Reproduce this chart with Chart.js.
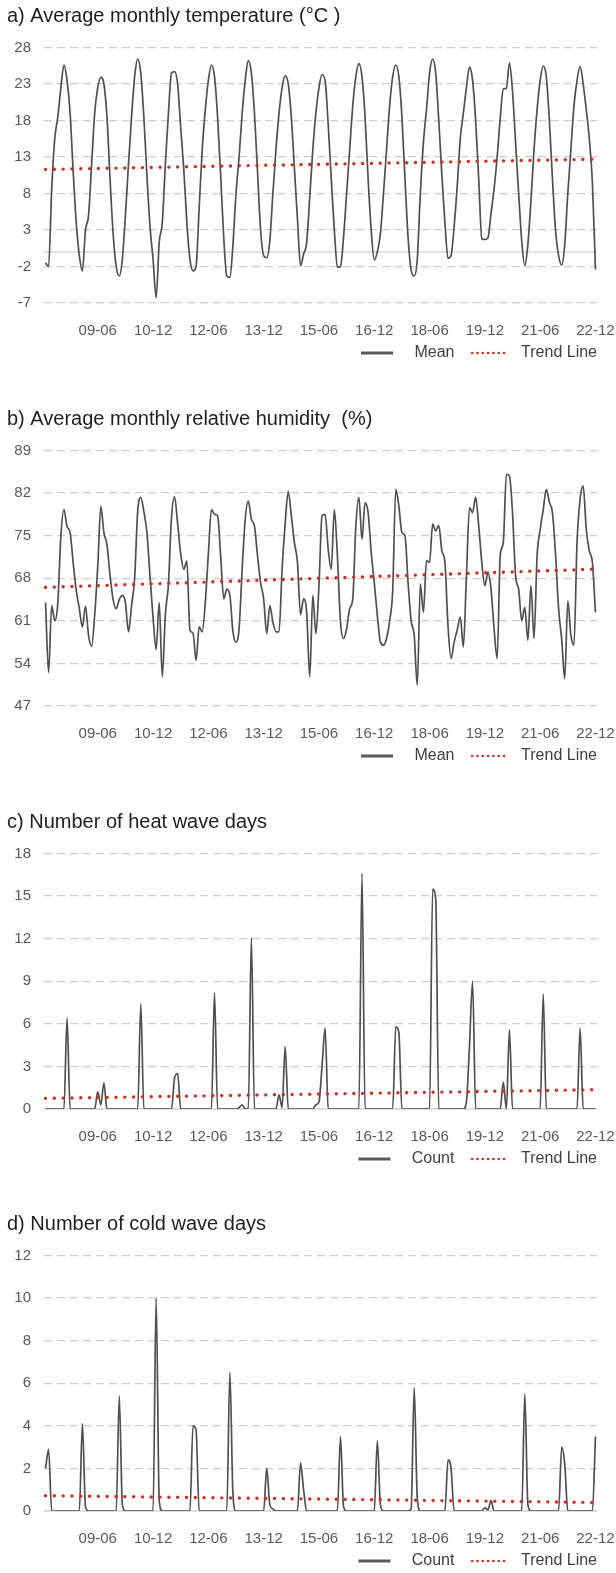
<!DOCTYPE html>
<html>
<head>
<meta charset="utf-8">
<script src="https://cdn.jsdelivr.net/npm/chart.js@4.4.1/dist/chart.umd.min.js"></script>
<style>
  html, body { margin: 0; padding: 0; background: #fff; }
  body { width: 616px; height: 1573px; position: relative; overflow: hidden; }
  .panel { position: absolute; left: 0; width: 616px; height: 370px; }
</style>
</head>
<body>
<div class="panel" style="top:1px"><canvas id="tempChart"></canvas></div>
<div class="panel" style="top:404px"><canvas id="humChart"></canvas></div>
<div class="panel" style="top:807px"><canvas id="heatChart"></canvas></div>
<div class="panel" style="top:1209px"><canvas id="coldChart"></canvas></div>
<script>
Chart.defaults.font.family = '"Liberation Sans", Arial, Helvetica, sans-serif';
Chart.defaults.color = '#595959';

// months 2008-01 .. 2022-12, shown as yy-mm
const years = ['08', '09', '10', '11', '12', '13', '14', '15', '16', '17', '18', '19', '20', '21', '22'];
const months = ['01', '02', '03', '04', '05', '06', '07', '08', '09', '10', '11', '12'];
const monthLabels = [];
years.forEach(yy => months.forEach(mm => monthLabels.push(yy + '-' + mm)));

// a) average monthly temperature (°C), one row per year
const temperature = [
  -1.5, -2.0, 8.5, 15.5, 18.5, 22.5, 25.6, 23.5, 19.0, 11.0, 4.0, -0.5,
  -2.6, 3.0, 5.0, 12.0, 19.0, 22.5, 23.9, 23.0, 18.5, 10.0, 2.5, -2.0,
  -3.3, -1.0, 5.0, 12.0, 18.5, 24.0, 26.4, 24.5, 18.5, 10.5, 3.5, -1.0,
  -6.3, 1.3, 4.0, 12.0, 19.0, 24.5, 24.7, 23.0, 17.0, 11.3, 4.0, -1.0,
  -2.6, -2.0, 6.0, 14.0, 19.5, 23.5, 25.6, 24.0, 18.5, 10.5, 2.0, -3.3,
  -3.5, 1.0, 8.0, 13.0, 19.0, 23.5, 26.2, 24.5, 19.0, 11.0, 3.0, -0.5,
  -0.8, 1.5, 8.0, 14.0, 19.0, 22.5, 24.1, 23.0, 18.5, 11.5, 4.5, -1.9,
  -0.3, 1.3, 7.5, 14.0, 19.0, 22.5, 24.3, 23.5, 17.5, 10.0, 3.0, -2.1,
  -2.0, 2.0, 8.0, 14.0, 20.0, 24.0, 25.8, 24.0, 18.5, 10.0, 3.0, -1.1,
  0.0, 2.5, 8.0, 14.0, 20.0, 24.0, 25.6, 24.0, 18.5, 10.0, 2.0, -2.5,
  -3.3, -1.0, 8.0, 15.0, 19.5, 24.5, 26.4, 24.5, 18.0, 10.5, 4.0, -0.9,
  -0.5, 3.5, 9.0, 15.5, 19.0, 22.5, 25.3, 23.5, 18.0, 10.0, 1.8, 1.7,
  1.9, 5.3, 8.6, 13.0, 18.3, 22.3, 22.4, 25.9, 22.0, 15.0, 8.0, 1.5,
  -1.9, 1.0, 7.0, 14.0, 19.5, 23.5, 25.5, 24.0, 18.0, 10.0, 3.0, -0.5,
  -1.8, 1.0, 8.0, 14.0, 20.0, 23.5, 25.4, 23.0, 19.5, 15.5, 9.5, -2.4
];

// b) average monthly relative humidity (%)
const humidity = [
  64.0, 52.5, 63.5, 61.0, 64.0, 75.0, 79.3, 76.5, 75.5, 70.5, 66.0, 63.0,
  60.0, 63.4, 58.6, 56.8, 62.0, 70.0, 79.8, 75.5, 73.5, 68.5, 64.5, 63.0,
  64.5, 65.2, 64.0, 59.2, 63.5, 68.0, 79.0, 81.3, 79.0, 75.5, 68.4, 61.5,
  56.3, 64.0, 51.8, 62.0, 67.0, 78.0, 81.4, 77.0, 72.0, 69.5, 70.8, 59.5,
  59.0, 54.5, 60.0, 59.2, 64.0, 72.0, 79.3, 78.5, 78.3, 71.7, 64.6, 66.2,
  65.2, 59.2, 57.5, 59.7, 69.5, 77.7, 80.7, 77.7, 76.6, 71.7, 67.3, 64.6,
  58.9, 63.5, 60.8, 59.2, 59.2, 69.5, 77.0, 82.3, 78.3, 73.9, 70.6, 62.0,
  64.6, 62.4, 51.8, 65.2, 58.9, 66.8, 78.3, 78.5, 72.8, 69.5, 79.3, 71.7,
  60.8, 58.1, 59.7, 63.0, 64.6, 76.6, 81.3, 74.4, 80.4, 78.8, 72.3, 67.3,
  61.9, 57.5, 57.0, 58.1, 61.0, 66.0, 82.6, 79.9, 75.5, 75.0, 67.3, 61.0,
  58.6, 50.4, 67.1, 62.4, 70.9, 70.6, 76.9, 75.8, 76.7, 72.5, 70.6, 60.2,
  54.8, 57.5, 59.5, 61.6, 56.7, 68.4, 79.6, 78.8, 81.3, 76.6, 70.6, 66.8,
  69.0, 66.2, 59.7, 54.8, 71.7, 73.9, 85.1, 84.8, 78.8, 68.4, 66.2, 61.0,
  63.2, 57.8, 66.8, 58.1, 71.7, 76.0, 79.3, 82.6, 80.5, 78.8, 72.0, 63.0,
  58.0, 51.5, 64.3, 58.6, 57.0, 73.9, 81.0, 83.2, 76.1, 72.5, 70.6, 62.4
];

// c) number of heat wave days per month
const heatWave = [
  0, 0, 0, 0, 0, 0, 0, 6.4, 0, 0, 0, 0,
  0, 0, 0, 0, 0, 1.2, 0.3, 1.85, 0, 0, 0, 0,
  0, 0, 0, 0, 0, 0, 0, 7.4, 0, 0, 0, 0,
  0, 0, 0, 0, 0, 0, 2.2, 2.5, 0, 0, 0, 0,
  0, 0, 0, 0, 0, 0, 0, 8.2, 0, 0, 0, 0,
  0, 0, 0, 0.1, 0.3, 0, 0, 12.05, 0, 0, 0, 0,
  0, 0, 0, 0, 1.0, 0.1, 4.4, 0, 0, 0, 0, 0,
  0, 0, 0, 0, 0.3, 0.5, 3.0, 5.7, 0, 0, 0, 0,
  0, 0, 0, 0, 0, 0, 0, 16.6, 0, 0, 0, 0,
  0, 0, 0, 0, 0, 0, 5.8, 5.4, 0, 0, 0, 0,
  0, 0, 0, 0, 0, 0, 15.5, 14.8, 0, 0, 0, 0,
  0, 0, 0, 0, 0, 0.5, 4.5, 9.0, 0, 0, 0, 0,
  0, 0, 0, 0, 0, 1.9, 0, 5.6, 0, 0, 0, 0,
  0, 0, 0, 0, 0, 0, 8.1, 0, 0, 0, 0, 0,
  0, 0, 0, 0, 0, 0, 5.7, 0, 0, 0, 0, 0
];

// d) number of cold wave days per month
const coldWave = [
  2.0, 2.9, 0, 0, 0, 0, 0, 0, 0, 0, 0, 0,
  4.1, 0.2, 0, 0, 0, 0, 0, 0, 0, 0, 0, 0,
  5.4, 0.3, 0, 0, 0, 0, 0, 0, 0, 0, 0, 0,
  10.0, 0.5, 0, 0, 0, 0, 0, 0, 0, 0, 0, 0,
  4.0, 3.8, 0, 0, 0, 0, 0, 0, 0, 0, 0, 0,
  6.5, 0.8, 0, 0, 0, 0, 0, 0, 0, 0, 0, 0,
  2.0, 0.3, 0.1, 0, 0, 0, 0, 0, 0, 0, 0, 2.25,
  1.0, 0, 0, 0, 0, 0, 0, 0, 0, 0, 0, 0,
  3.5, 0.2, 0, 0, 0, 0, 0, 0, 0, 0, 0, 0,
  3.3, 0.3, 0, 0, 0, 0, 0, 0, 0, 0, 0, 0.1,
  5.8, 0.6, 0, 0, 0, 0, 0, 0, 0, 0, 0, 2.4,
  2.0, 0, 0, 0, 0, 0, 0, 0, 0, 0, 0, 0.15,
  0.05, 0.5, 0, 0, 0, 0, 0, 0, 0, 0, 0, 0,
  5.5, 0.3, 0, 0, 0, 0, 0, 0, 0, 0, 0, 0,
  3.0, 2.2, 0, 0, 0, 0, 0, 0, 0, 0, 0, 3.5
];

// linear trend lines: value at first and last month
const temperatureTrend = [11.3, 12.7];
const humidityTrend = [66.5, 69.5];
const heatWaveTrend = [0.75, 1.36];
const coldWaveTrend = [0.72, 0.4];

function trendSeries(ends) {
  const last = monthLabels.length - 1;
  return monthLabels.map((_, i) => (i === 0 ? ends[0] : i === last ? ends[1] : null));
}

// light solid line at y = 0 (axis crossing)
const zeroLine = {
  id: 'zeroLine',
  beforeDatasetsDraw(chart) {
    const { ctx, chartArea, scales } = chart;
    const y = scales.y.getPixelForValue(0);
    ctx.save();
    ctx.strokeStyle = '#d9d9d9';
    ctx.lineWidth = 1.5;
    ctx.beginPath();
    ctx.moveTo(chartArea.left, y);
    ctx.lineTo(chartArea.right, y);
    ctx.stroke();
    ctx.restore();
  }
};

function legendLabels(chart) {
  const items = Chart.defaults.plugins.legend.labels.generateLabels(chart);
  items.forEach(item => {
    if (item.datasetIndex === 0) {
      item.text = '   ' + item.text + '    ';
      item.lineWidth = 3;
      item.strokeStyle = '#595959';
    } else {
      item.text = '  ' + item.text;
      item.lineWidth = 2.6;
      item.lineDash = [0.01, 5.3];
      item.lineCap = 'round';
    }
  });
  return items;
}

function buildPanel(canvasId, title, seriesLabel, series, trend, yMin, yMax, yStep) {
  return new Chart(document.getElementById(canvasId), {
    type: 'line',
    data: {
      labels: monthLabels,
      datasets: [{
        label: seriesLabel,
        data: series,
        borderColor: '#505050',
        borderWidth: 1.7,
        pointRadius: 0,
        cubicInterpolationMode: 'monotone',
        order: 1
      }, {
        label: 'Trend Line',
        data: trendSeries(trend),
        borderColor: '#d42a20',
        borderWidth: 3.4,
        borderDash: [0.01, 8.8],
        borderCapStyle: 'round',
        pointRadius: 0,
        spanGaps: true,
        tension: 0,
        order: 0
      }]
    },
    options: {
      responsive: true,
      maintainAspectRatio: false,
      animation: false,
      layout: { padding: { left: 7, right: 19, top: 0, bottom: 0 } },
      plugins: {
        title: {
          display: true,
          text: title,
          align: 'start',
          color: '#1f1f1f',
          font: { size: 20, weight: 'normal' },
          padding: { top: 3, bottom: 19.5 }
        },
        legend: {
          position: 'bottom',
          align: 'end',
          labels: {
            usePointStyle: true,
            pointStyle: 'line',
            pointStyleWidth: 32,
            padding: 0,
            color: '#404040',
            font: { size: 16 },
            sort: (a, b) => a.datasetIndex - b.datasetIndex,
            generateLabels: legendLabels
          }
        },
        tooltip: { enabled: false }
      },
      scales: {
        x: {
          offset: true,
          grid: { display: false },
          border: { display: false },
          ticks: {
            autoSkip: false,
            maxRotation: 0,
            minRotation: 0,
            padding: 11,
            font: { size: 15 },
            color: '#595959',
            callback: (v, i) => (i % 18 === 17 ? monthLabels[i] : null)
          },
          afterFit: scale => {
            scale.height = 42;
            // let the last label hang into the right margin
            scale.paddingLeft = 0;
            scale.paddingRight = 0;
          }
        },
        y: {
          min: yMin,
          max: yMax,
          grid: { color: '#d3cbc7', lineWidth: 1.3, drawTicks: false },
          border: { display: false, dash: [8, 5] },
          ticks: { stepSize: yStep, padding: 13, font: { size: 15 }, color: '#595959' },
          afterFit: scale => { scale.width = 37; }
        }
      }
    },
    plugins: [zeroLine]
  });
}

buildPanel('tempChart', 'a) Average monthly temperature (°C )', 'Mean', temperature, temperatureTrend, -7, 28, 5);
buildPanel('humChart', 'b) Average monthly relative humidity  (%)', 'Mean', humidity, humidityTrend, 47, 89, 7);
buildPanel('heatChart', 'c) Number of heat wave days', 'Count', heatWave, heatWaveTrend, 0, 18, 3);
buildPanel('coldChart', 'd) Number of cold wave days', 'Count', coldWave, coldWaveTrend, 0, 12, 2);
</script>
</body>
</html>
